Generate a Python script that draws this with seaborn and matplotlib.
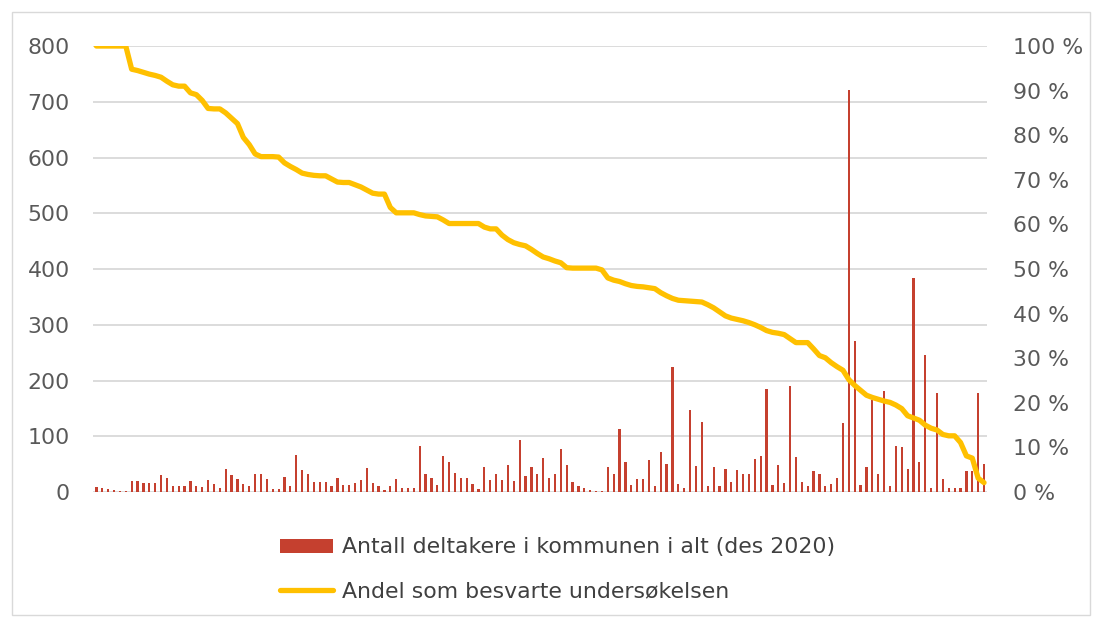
import numpy as np
import pandas as pd
import matplotlib
matplotlib.use("Agg")
import matplotlib.pyplot as plt
import seaborn as sns
from matplotlib.patches import Patch, Rectangle
from matplotlib.lines import Line2D
from matplotlib.ticker import FuncFormatter

sns.set_theme(style="white")
plt.rcParams['font.family'] = ['DejaVu Sans']

# participants per municipality (bars, left axis)
deltakere = [
    9, 7, 5, 4, 2, 2, 20, 20, 17, 17, 16, 30, 25, 11, 11, 11, 19, 10, 9, 22, 15, 8, 41, 31, 23,
    15, 10, 32, 32, 24, 5, 5, 27, 11, 67, 39, 32, 18, 18, 18, 11, 26, 13, 13, 17, 22, 43, 16, 10, 4,
    10, 23, 8, 8, 8, 82, 33, 26, 12, 65, 54, 35, 25, 25, 14, 5, 44, 22, 33, 22, 48, 19, 94, 29, 44,
    32, 61, 25, 32, 78, 48, 18, 11, 7, 4, 2, 2, 44, 33, 113, 53, 13, 24, 24, 57, 11, 72, 50, 224, 14,
    8, 148, 47, 125, 11, 45, 10, 41, 18, 39, 33, 33, 59, 64, 184, 13, 48, 17, 191, 63, 18, 10, 38, 32, 11,
    14, 25, 124, 721, 271, 13, 45, 165, 33, 181, 11, 83, 80, 42, 383, 54, 246, 7, 178, 24, 8, 8, 8, 38, 38, 178, 51,
]

# share who answered the survey (line, right axis, %)
andel = [
    100, 100, 100, 100, 100, 100, 94.8, 94.5, 94.1, 93.7, 93.4, 93.0, 92.1, 91.3, 91.0, 91.0,
    89.5, 89.1, 87.8, 86.0, 85.9, 85.9, 85.0, 83.8, 82.6, 79.5, 77.9, 75.8, 75.2, 75.2, 75.2, 75.1,
    73.8, 73.0, 72.3, 71.5, 71.2, 71.0, 70.9, 70.9, 70.2, 69.5, 69.4, 69.4, 68.9, 68.4, 67.7, 67.0,
    66.8, 66.8, 63.8, 62.6, 62.6, 62.6, 62.6, 62.2, 61.9, 61.8, 61.7, 61.0, 60.2, 60.2, 60.2, 60.2,
    60.2, 60.2, 59.4, 59.0, 59.0, 57.6, 56.6, 55.9, 55.5, 55.2, 54.4, 53.5, 52.7, 52.3, 51.8, 51.4,
    50.3, 50.2, 50.2, 50.2, 50.2, 50.2, 49.8, 48.0, 47.5, 47.2, 46.7, 46.3, 46.1, 46.0, 45.8, 45.6,
    44.7, 44.0, 43.4, 43.0, 42.9, 42.8, 42.7, 42.6, 42.0, 41.3, 40.4, 39.5, 39.0, 38.7, 38.4, 38.0,
    37.5, 36.9, 36.2, 35.8, 35.6, 35.3, 34.4, 33.5, 33.5, 33.5, 32.1, 30.6, 30.1, 29.0, 28.1, 27.3,
    25.2, 23.9, 22.8, 21.7, 21.2, 20.8, 20.4, 20.1, 19.5, 18.7, 17.1, 16.6, 16.1, 15.0, 14.3, 13.9,
    12.9, 12.6, 12.6, 11.1, 8.1, 7.6, 3.1, 2.1,
]

bar_label = "Antall deltakere i kommunen i alt (des 2020)"
line_label = "Andel som besvarte undersøkelsen"

df = pd.DataFrame({'kommune': np.arange(len(deltakere)), 'deltakere': deltakere, 'andel': andel})

BAR_COLOR = '#c5402f'
LINE_COLOR = '#ffc000'
TXT = '#595959'
FS = 15.8

fig = plt.figure(figsize=(10.93, 6.21), dpi=100)
ax = fig.add_axes([0.0855, 0.2077, 0.8175, 0.7182])

sns.barplot(data=df, x='kommune', y='deltakere', color=BAR_COLOR, saturation=1,
            width=0.38, ax=ax, linewidth=0)
ax.set_ylim(0, 800)
ax.set_yticks(range(0, 801, 100))
ax.yaxis.grid(True, color='#d9d9d9', linewidth=1.3)
ax.set_axisbelow(True)
ax.set_xticks([])
ax.set_xlabel('')
ax.set_ylabel('')
ax.tick_params(axis='y', length=0, pad=17, labelsize=FS, labelcolor=TXT)
for s in ax.spines.values():
    s.set_visible(False)

ax2 = ax.twinx()
sns.lineplot(data=df, x='kommune', y='andel', color=LINE_COLOR, linewidth=3.8, ax=ax2)
ax2.set_ylim(0, 100)
ax2.set_yticks(range(0, 101, 10))
ax2.yaxis.set_major_formatter(FuncFormatter(lambda v, p: f"{v:.0f} %"))
ax2.set_ylabel('')
ax2.set_xlabel('')
ax2.tick_params(axis='y', length=0, pad=19, labelsize=FS, labelcolor=TXT)
for s in ax2.spines.values():
    s.set_visible(False)
ax.set_xlim(-0.5, len(deltakere) - 0.5)

handles = [Patch(facecolor=BAR_COLOR, edgecolor='none'),
           Line2D([0], [0], color=LINE_COLOR, linewidth=3.8)]
fig.legend(handles, [bar_label, line_label], loc='center', bbox_to_anchor=(0.51, 0.083),
           frameon=False, fontsize=FS, labelcolor='#404040', handlelength=2.45,
           handleheight=0.62, handletextpad=0.4, labelspacing=1.1)

# light outer frame
fig.patches.append(Rectangle((12 / 1093, 6 / 621), 1078 / 1093, 603 / 621, transform=fig.transFigure,
                             fill=False, edgecolor='#d9d9d9', linewidth=1))

fig.savefig('out.png', dpi=100)
